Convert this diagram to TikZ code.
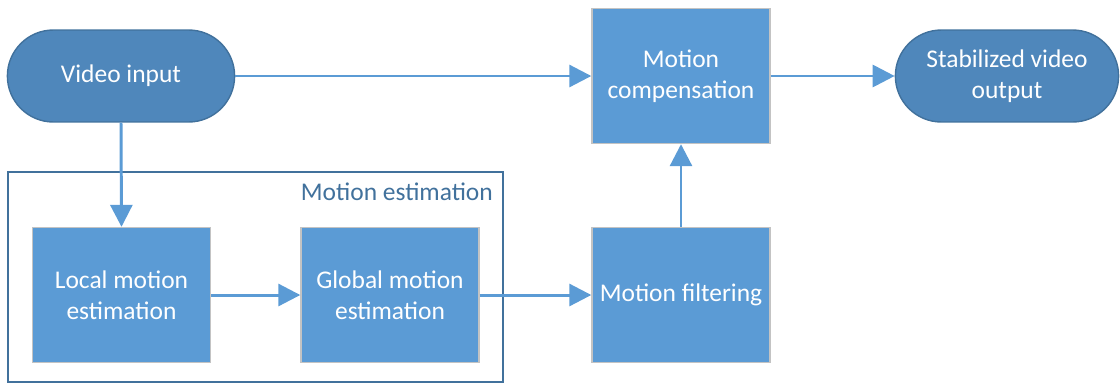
\documentclass[tikz,border=0pt]{standalone}
\usepackage{fontspec}
\setmainfont{Carlito}
\usepackage{tikz}
\usetikzlibrary{backgrounds, positioning, fit}
\usetikzlibrary{shapes.misc}
\usetikzlibrary{arrows.meta}
\definecolor{boxblue}{HTML}{5B9BD5}
\definecolor{pillblue}{HTML}{4F87BB}
\definecolor{darkblue}{HTML}{41719C}
\definecolor{boxedge}{HTML}{C3C3C3}
\tikzstyle{proc} = [rectangle, minimum width=3.56cm, minimum height=2.7cm, text centered, align=center, draw=boxedge, line width=0.8pt, fill=boxblue, text=white, font=\fontsize{14.5}{17.5}\selectfont]
\tikzstyle{term} = [rounded rectangle, minimum width=4.78cm, minimum height=1.84cm, text centered, align=center, draw=darkblue, line width=0.8pt, fill=pillblue, text=white, font=\fontsize{14.5}{17.5}\selectfont]
\tikzstyle{flow} = [line width=1.7pt, draw=boxblue, -{Triangle[length=0.44cm,width=0.44cm]}]

\begin{document}
\begin{tikzpicture}[x=0.02cm,y=-0.02cm]

\useasboundingbox (0,0) rectangle (1120,383);

\node (input) [term] at (121,76) {Video input};
\node (comp) [proc] at (681,76) {Motion\\compensation};
\node (output) [term, minimum width=4.7cm] at (1007,76) {Stabilized video\\output};

\node (local) [proc] at (121.5,295) {Local motion\\estimation};
\node (global) [proc] at (390,295) {Global motion\\estimation};
\node (filter) [proc] at (681,295) {Motion filtering};

\begin{scope}[on background layer]
    \node (estim) [draw=darkblue, line width=1.2pt, minimum width=9.9cm, minimum height=4.2cm] at (255.5,277) {};
\end{scope}
\node[anchor=east, text=darkblue, font=\fontsize{14.5}{17.5}\selectfont] (estimlabel) at (499,192) {Motion estimation};

\draw[flow] (input.east) -- (comp.west);
\draw[flow] (input.south) -- (local.north);
\draw[flow] (local.east) -- (global.west);
\draw[flow] (global.east) -- (filter.west);
\draw[flow] (filter.north) -- (comp.south);
\draw[flow] (comp.east) -- (output.west);

\end{tikzpicture}
\end{document}
